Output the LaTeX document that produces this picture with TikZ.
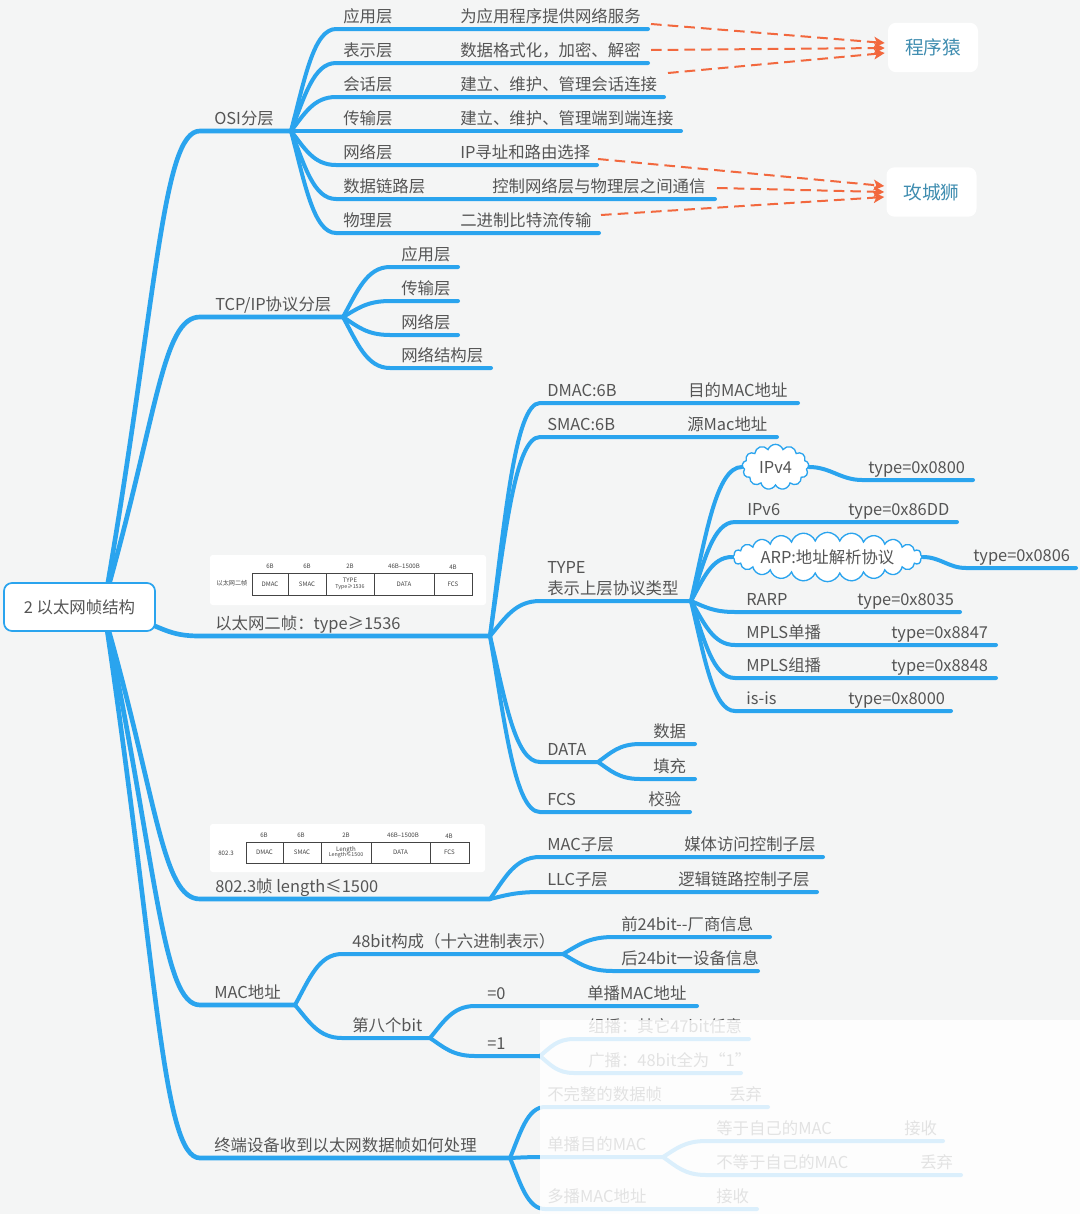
\documentclass[tikz,border=0pt]{standalone}
\usepackage{fontspec}
\setmainfont{Noto Sans CJK SC}
\usetikzlibrary{arrows.meta,calc,shapes.symbols}
\definecolor{bg}{HTML}{F4F5F5}
\definecolor{bl}{HTML}{2AA4EE}
\definecolor{txtc}{HTML}{555555}
\definecolor{orng}{HTML}{F2683E}
\definecolor{lblc}{HTML}{3F8DB0}
\definecolor{cellc}{HTML}{444444}
\pgfdeclarelayer{bgl}
\pgfdeclarelayer{back}
\pgfsetlayers{bgl,back,main}
\newcommand\mmtrunk[3]{\draw[trunkline] let \p1=(#1), \p2=(#2) in (\p1) .. controls ({\x1+0.55*(\x2-\x1)},{\y1+0.65*(\y2-\y1)}) and ({\x1+0.6*(\x2-\x1)},{\y2}) .. (\p2) -- (#3);}
\newcommand\mmfan[3]{\draw[br] let \p1=(#1), \p2=(#2) in (\p1) .. controls ({\x1+0.3*(\x2-\x1)},{\y1+0.5*(\y2-\y1)}) and ({\x1+0.5*(\x2-\x1)},{\y2}) .. (\p2) -- (#3);}
\newcommand\mmtopic[6]{\coordinate (#1-s) at (#2,#3); \coordinate (#1-e) at (#4,#3); \node[lab] (#1) at (#5,#3-6.5) {#6};}
\newcommand\mmlab[4]{\node[lab] (#1) at (#2,#3-6.5) {#4};}
\begin{document}
\begin{tikzpicture}[x=0.75pt,y=-0.75pt,
  lab/.style={anchor=base west, inner sep=0pt, text=txtc, font=\fontsize{12.3pt}{15pt}\selectfont},
  br/.style={draw=bl, line width=3pt, line cap=round},
  trunkline/.style={br, line width=3.5pt},
  rootbox/.style={draw=bl, line width=1.3pt, fill=white, rounded corners=6pt, minimum width=113.25pt, minimum height=36pt, text=txtc, font=\fontsize{12.3pt}{15pt}\selectfont},
  rolebox/.style={fill=white, rounded corners=6pt, minimum width=67.5pt, minimum height=37pt, text=lblc, font=\fontsize{14pt}{16pt}\selectfont},
  darr/.style={draw=orng, line width=1.5pt, dash pattern=on 8pt off 4.5pt, -{Stealth[length=8pt,width=8pt,inset=2pt]}},
  cloudn/.style={cloud, cloud puffs=13, cloud puff arc=140, cloud ignores aspect, draw=bl, line width=1pt, fill=white, inner sep=0pt, text=txtc, font=\fontsize{12.3pt}{15pt}\selectfont},
  framebox/.style={fill=white, rounded corners=2pt, inner sep=0pt},
  cell/.style={draw=cellc, line width=0.5pt, inner sep=0pt, align=center, text=cellc, font=\fontsize{4.6pt}{5pt}\selectfont},
  tinyt/.style={inner sep=0pt, text=cellc, font=\fontsize{4.6pt}{5pt}\selectfont}
]
\begin{pgfonlayer}{bgl}
\fill[bg] (0,0) rectangle (1080,1214);
\end{pgfonlayer}
\useasboundingbox (0,0) rectangle (1080,1214);

% root
\node[rootbox] (root) at (79.5,607) {2 以太网帧结构};
\coordinate (rU) at ($(root.center)+(26,-10)$);
\coordinate (rD) at ($(root.center)+(26,12)$);
\coordinate (rR) at ($(root.center)+(40,5)$);

% level 1 topics
\mmtopic{osi}{200}{131}{291}{214}{OSI分层}
\mmtopic{tcp}{200}{317}{343}{215}{TCP/IP协议分层}
\mmtopic{eth}{200}{636}{490}{215}{以太网二帧：type≥1536}
\mmtopic{ieee}{200}{899}{490}{215}{802.3帧 length≤1500}
\mmtopic{mac}{200}{1005}{295}{214}{MAC地址}
\mmtopic{term}{200}{1158}{510}{214}{终端设备收到以太网数据帧如何处理}

% OSI
\mmtopic{o1}{336}{29}{648}{343}{应用层} \mmlab{o1d}{460}{29}{为应用程序提供网络服务}
\mmtopic{o2}{336}{63}{648}{343}{表示层} \mmlab{o2d}{460}{63}{数据格式化，加密、解密}
\mmtopic{o3}{336}{97}{664}{343}{会话层} \mmlab{o3d}{460}{97}{建立、维护、管理会话连接}
\mmtopic{o4}{336}{131}{681}{343}{传输层} \mmlab{o4d}{460}{131}{建立、维护、管理端到端连接}
\mmtopic{o5}{336}{165}{597}{343}{网络层} \mmlab{o5d}{460}{165}{IP寻址和路由选择}
\mmtopic{o6}{336}{199}{715}{343}{数据链路层} \mmlab{o6d}{492}{199}{控制网络层与物理层之间通信}
\mmtopic{o7}{336}{233}{599}{343}{物理层} \mmlab{o7d}{460}{233}{二进制比特流传输}

\node[rolebox] (cxy) at (933,47.5) {程序猿};
\node[rolebox] (gcs) at (931.5,192) {攻城狮};
\coordinate (a1) at (651,24);
\coordinate (a2) at (651,50);
\coordinate (a3) at (668,73);
\coordinate (a4) at (598,159);
\coordinate (a5) at (717,188);
\coordinate (a6) at (601,215);
\draw[darr] (a1) -- ($(cxy.west)+(-3,-4.5)$);
\draw[darr] (a2) -- ($(cxy.west)+(-3,0.5)$);
\draw[darr] (a3) -- ($(cxy.west)+(-3,5.5)$);
\draw[darr] (a4) -- ($(gcs.west)+(-2,-6)$);
\draw[darr] (a5) -- ($(gcs.west)+(-2,0)$);
\draw[darr] (a6) -- ($(gcs.west)+(-2,5)$);

% TCP/IP
\mmtopic{t1}{390}{267}{458}{401}{应用层}
\mmtopic{t2}{390}{301}{458}{401}{传输层}
\mmtopic{t3}{390}{335}{458}{401}{网络层}
\mmtopic{t4}{390}{368}{491}{401}{网络结构层}

% Ethernet II
\mmtopic{dm}{540}{403}{798}{547}{DMAC:6B} \mmlab{dmd}{688}{403}{目的MAC地址}
\mmtopic{sm}{540}{437}{777}{547}{SMAC:6B} \mmlab{smd}{687}{437}{源Mac地址}
\mmtopic{ty}{540}{601}{691}{547}{表示上层协议类型}
\node[lab] (tyA) at (547,573) {TYPE};
\mmtopic{da}{540}{762}{598}{547}{DATA}
\mmtopic{fc}{540}{812}{690}{547}{FCS} \mmlab{fcd}{648}{812}{校验}
\mmtopic{da1}{640}{744}{695}{653}{数据}
\mmtopic{da2}{640}{779}{695}{653}{填充}

% TYPE children
\node[cloudn, minimum width=50pt, minimum height=34pt] (ip4) at (775.5,467) {IPv4};
\coordinate (ip4v-s) at (862,480);
\coordinate (ip4v-e) at (973,480);
\mmlab{ip4d}{868}{480}{type=0x0800}
\mmtopic{ip6}{735}{522}{957}{747}{IPv6} \mmlab{ip6d}{848}{522}{type=0x86DD}
\node[cloudn, cloud puffs=24, minimum width=111pt, minimum height=37pt] (arp) at (827.5,557) {ARP:地址解析协议};
\coordinate (arpv-s) at (966,568);
\coordinate (arpv-e) at (1076,568);
\mmlab{arpd}{973}{568}{type=0x0806}
\mmtopic{rarp}{735}{612}{960}{746}{RARP} \mmlab{rarpd}{857}{612}{type=0x8035}
\mmtopic{mp1}{735}{645}{996}{746}{MPLS单播} \mmlab{mp1d}{891}{645}{type=0x8847}
\mmtopic{mp2}{735}{678}{996}{746}{MPLS组播} \mmlab{mp2d}{891}{678}{type=0x8848}
\mmtopic{isis}{735}{711}{951}{746}{is-is} \mmlab{isisd}{848}{711}{type=0x8000}

% 802.3
\mmtopic{m1}{540}{857}{823}{547}{MAC子层} \mmlab{m1d}{684}{857}{媒体访问控制子层}
\mmtopic{m2}{540}{892}{817}{547}{LLC子层} \mmlab{m2d}{678}{892}{逻辑链路控制子层}

% MAC address
\mmtopic{b48}{342}{954}{563}{352}{48bit构成（十六进制表示）}
\mmtopic{b8}{342}{1038}{430}{352}{第八个bit}
\mmtopic{f1}{613}{937}{770}{621}{前24bit-{}-厂商信息}
\mmtopic{f2}{613}{971}{758}{621}{后24bit一设备信息}
\mmtopic{z0}{475}{1006}{697}{487}{=0} \mmlab{z0d}{587}{1006}{单播MAC地址}
\mmtopic{z1}{475}{1056}{540}{487}{=1}
\mmtopic{g1}{574}{1039}{749}{588}{组播：其它47bit任意}
\mmtopic{g2}{574}{1073}{741}{588}{广播：48bit全为“1”}

% terminal
\mmtopic{p1}{545}{1107}{768}{547}{不完整的数据帧} \mmlab{p1d}{729}{1107}{丢弃}
\mmtopic{p2}{545}{1157}{663}{547}{单播目的MAC}
\mmtopic{p3}{545}{1209}{757}{547}{多播MAC地址} \mmlab{p3d}{716}{1209}{接收}
\mmtopic{q1}{706}{1141}{943}{716}{等于自己的MAC} \mmlab{q1d}{904}{1141}{接收}
\mmtopic{q2}{706}{1175}{961}{716}{不等于自己的MAC} \mmlab{q2d}{920}{1175}{丢弃}

% frame pictures
\node[framebox, minimum width=207pt, minimum height=37.5pt] (fr1) at (348,580) {};
\node[tinyt] (fr1l) at (232,583) {以太网二帧};
\node[cell, minimum width=27pt, minimum height=16.5pt] (c11) at (270,584) {DMAC};
\node[cell, minimum width=28.5pt, minimum height=16.5pt] (c12) at (307,584) {SMAC};
\node[cell, minimum width=36pt, minimum height=16.5pt] (c13) at (350,584) {TYPE\\[-1pt]{\fontsize{4pt}{4.5pt}\selectfont Type≥1536}};
\node[cell, minimum width=45pt, minimum height=16.5pt] (c14) at (404,584) {DATA};
\node[cell, minimum width=28.5pt, minimum height=16.5pt] (c15) at (453,584) {FCS};
\node[tinyt] (h11) at (270,566) {6B};
\node[tinyt] (h12) at (307,566) {6B};
\node[tinyt] (h13) at (350,566) {2B};
\node[tinyt] (h14) at (404,566) {46B--1500B};
\node[tinyt] (h15) at (453,567) {4B};

\node[framebox, minimum width=206.25pt, minimum height=36pt] (fr2) at (347.5,848) {};
\node[tinyt] (fr2l) at (226,853) {802.3};
\node[cell, minimum width=27.75pt, minimum height=15.75pt] (c21) at (264.5,852.5) {DMAC};
\node[cell, minimum width=28.5pt, minimum height=15.75pt] (c22) at (302,852.5) {SMAC};
\node[cell, minimum width=37.5pt, minimum height=15.75pt] (c23) at (346,852.5) {Length\\[-1pt]{\fontsize{4pt}{4.5pt}\selectfont Length≤1500}};
\node[cell, minimum width=44.25pt, minimum height=15.75pt] (c24) at (400.5,852.5) {DATA};
\node[cell, minimum width=29.25pt, minimum height=15.75pt] (c25) at (449.5,852.5) {FCS};
\node[tinyt] (h21) at (264,835) {6B};
\node[tinyt] (h22) at (301,835) {6B};
\node[tinyt] (h23) at (346,835) {2B};
\node[tinyt] (h24) at (403,835) {46B--1500B};
\node[tinyt] (h25) at (449,836) {4B};

% connectors
\begin{pgfonlayer}{back}
\mmtrunk{rU}{osi-s}{osi-e}
\mmtrunk{rU}{tcp-s}{tcp-e}
\mmtrunk{rR}{eth-s}{eth-e}
\mmtrunk{rD}{ieee-s}{ieee-e}
\mmtrunk{rD}{mac-s}{mac-e}
\mmtrunk{rD}{term-s}{term-e}
\foreach \c in {o1,o2,o3,o4,o5,o6,o7} {\mmfan{osi-e}{\c-s}{\c-e}}
\foreach \c in {t1,t2,t3,t4} {\mmfan{tcp-e}{\c-s}{\c-e}}
\foreach \c in {dm,sm,ty,da,fc} {\mmfan{eth-e}{\c-s}{\c-e}}
\foreach \c in {da1,da2} {\mmfan{da-e}{\c-s}{\c-e}}
\mmfan{ty-e}{ip4.west}{ip4.west}
\mmfan{ty-e}{arp.west}{arp.west}
\foreach \c in {ip6,rarp,mp1,mp2,isis} {\mmfan{ty-e}{\c-s}{\c-e}}
\draw[br] (ip4.east) to[out=0,in=180] (ip4v-s) -- (ip4v-e);
\draw[br] (arp.east) to[out=0,in=180] (arpv-s) -- (arpv-e);
\foreach \c in {m1,m2} {\mmfan{ieee-e}{\c-s}{\c-e}}
\foreach \c in {b48,b8} {\mmfan{mac-e}{\c-s}{\c-e}}
\foreach \c in {f1,f2} {\mmfan{b48-e}{\c-s}{\c-e}}
\foreach \c in {z0,z1} {\mmfan{b8-e}{\c-s}{\c-e}}
\foreach \c in {g1,g2} {\mmfan{z1-e}{\c-s}{\c-e}}
\foreach \c in {p1,p2,p3} {\mmfan{term-e}{\c-s}{\c-e}}
\foreach \c in {q1,q2} {\mmfan{p2-e}{\c-s}{\c-e}}
\end{pgfonlayer}

% faded overlay
\fill[white, opacity=0.83] (540,1020) rectangle (1080,1214);
\end{tikzpicture}
\end{document}
